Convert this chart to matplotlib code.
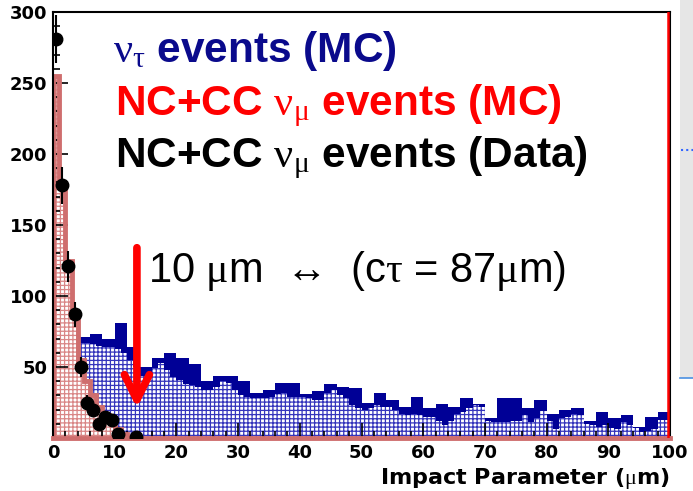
import matplotlib.pyplot as plt
from matplotlib.patches import Rectangle
from matplotlib.lines import Line2D

plt.rcParams['mathtext.fontset'] = 'custom'
plt.rcParams['mathtext.rm'] = 'Liberation Serif'
plt.rcParams['mathtext.it'] = 'Liberation Serif'
plt.rcParams['mathtext.bf'] = 'Liberation Serif'
plt.rcParams['hatch.linewidth'] = 0.9

# nu_tau MC, coarse binning (2 um)
tau_edges_coarse = list(range(0, 101, 2))
tau_coarse = [78, 75, 71, 73, 70, 81, 64, 50, 56, 60,
              56, 52, 40, 44, 44, 40, 32, 34, 39, 39,
              31, 33, 38, 36, 35, 25, 32, 27, 22, 29,
              21, 24, 22, 28, 24, 14, 28, 28, 21, 27,
              17, 20, 21, 12, 18, 14, 16, 8, 15, 18]

# nu_tau MC, fine binning (1 um), dotted
tau_edges_fine = list(range(0, 101))
tau_fine = [76, 76, 70, 68, 67, 67, 66, 65, 64, 64,
            63, 60, 55, 50, 44, 46, 49, 53, 48, 43,
            41, 38, 37, 36, 34, 34, 36, 40, 39, 34,
            30, 29, 28, 28, 28, 29, 31, 32, 29, 29,
            29, 28, 27, 27, 32, 34, 30, 28, 23, 21,
            20, 21, 23, 22, 22, 20, 17, 16, 17, 16,
            15, 15, 12, 9, 12, 17, 18, 21, 23, 22,
            12, 11, 11, 11, 12, 12, 16, 11, 14, 19,
            12, 6, 14, 15, 17, 16, 10, 9, 8, 9,
            7, 6, 11, 9, 7, 4, 5, 6, 13, 13]

# NC+CC nu_mu MC (1 um bins)
numu_edges = list(range(0, 14))
numu_mc = [255, 178, 125, 85, 55, 40, 30, 22, 16, 12, 6, 3, 1]

# NC+CC nu_mu data
data_x = [0.5, 1.5, 2.5, 3.5, 4.5, 5.5, 6.5, 7.5, 8.5, 9.5, 10.5, 13.5]
data_y = [281, 178, 121, 87, 50, 25, 20, 10, 15, 13, 3, 1]
data_err = [17, 13, 11, 9, 7, 5, 4.5, 3, 4, 3.6, 1.7, 1]

navy = '#000096'
pink = '#cf6e6e'

fig = plt.figure(figsize=(6.93, 4.91), dpi=100)
ax = fig.add_axes([53 / 693, 1 - 438 / 491, 617 / 693, 426 / 491])

ax.stairs(tau_coarse, tau_edges_coarse, fill=True, color=navy, lw=0, zorder=1)
ax.stairs(tau_fine, tau_edges_fine, fill=True, facecolor='white',
          edgecolor='#3434bc', hatch='++++', lw=0, zorder=1.2)

ax.stairs(numu_mc, numu_edges, fill=True, facecolor='white',
          edgecolor='#d98686', hatch='++++', lw=0, zorder=1.5)
ax.stairs(numu_mc, numu_edges, fill=False, color=pink, lw=3.5, zorder=1.6)

ax.errorbar(data_x, data_y, yerr=data_err, fmt='o', color='black', ms=9,
            elinewidth=1.5, capsize=0, zorder=4)

ax.axvline(99.75, color='red', lw=1.8, zorder=5)

ax.annotate('', xy=(13.6, 21), xytext=(13.6, 134),
            arrowprops=dict(arrowstyle='->,head_length=1.8,head_width=0.9',
                            color='red', lw=5.5, shrinkA=0, shrinkB=0), zorder=6)

ax.set_xlim(0, 100)
ax.set_ylim(0, 300)
ax.set_xticks(range(0, 101, 10))
ax.set_xticks(range(0, 101, 2), minor=True)
ax.set_yticks(range(50, 301, 50))
ax.set_yticks(range(0, 301, 10), minor=True)
ax.tick_params(which='both', direction='in', color='black', width=1.2)
ax.tick_params(which='major', length=11, labelsize=13, pad=4)
ax.tick_params(which='minor', length=5)
for lab in ax.get_xticklabels() + ax.get_yticklabels():
    lab.set_fontweight('bold')
    lab.set_family('DejaVu Sans')

for side in ['left', 'top', 'right']:
    ax.spines[side].set_color('black')
    ax.spines[side].set_linewidth(1.5)
ax.spines['bottom'].set_color(pink)
ax.spines['bottom'].set_linewidth(3.5)

ax.set_xlabel(r'Impact Parameter ($\mu$m)', loc='right', fontsize=16,
              fontweight='bold', family='DejaVu Sans', labelpad=3)

sans = ['Liberation Sans', 'DejaVu Sans']
fig.text(113 / 693, 1 - 62 / 491, r'$\nu_\tau$ events (MC)', color='#0a0a8c',
         fontsize=30.5, fontweight='bold', family=sans, va='baseline')
fig.text(115 / 693, 1 - 115 / 491, r'NC+CC $\nu_\mu$ events (MC)', color='red',
         fontsize=30.5, fontweight='bold', family=sans, va='baseline')
fig.text(115 / 693, 1 - 167 / 491, r'NC+CC $\nu_\mu$ events (Data)', color='black',
         fontsize=30.5, fontweight='bold', family=sans, va='baseline')
fig.text(148 / 693, 1 - 282 / 491, '10 $\\mu$m  \u2194  (c$\\tau$ = 87$\\mu$m)',
         color='black', fontsize=30, family=sans, va='baseline')

# slide background strip on the right
fig.patches.append(Rectangle((680 / 693, 1 - 378 / 491), 13 / 693, 378 / 491,
                             transform=fig.transFigure, facecolor='#e6e6e6',
                             edgecolor='none'))
fig.lines.append(Line2D([680 / 693, 1], [1 - 378 / 491] * 2, transform=fig.transFigure,
                        color='#4a90e2', lw=1.2))
fig.lines.append(Line2D([681 / 693, 1], [1 - 150 / 491] * 2, transform=fig.transFigure,
                        color='#3366ff', lw=1.5, ls=(0, (1, 1.5))))

fig.savefig('out.png', dpi=100)
